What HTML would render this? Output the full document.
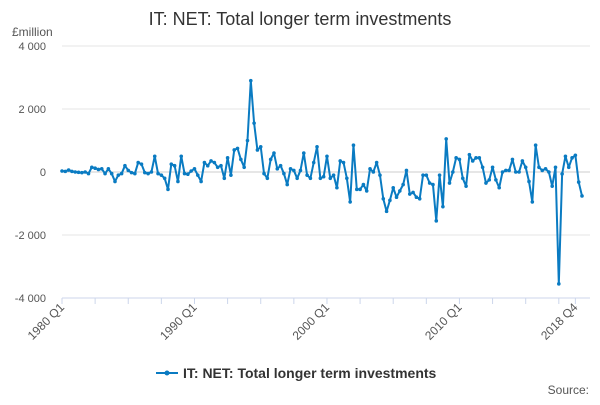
<!DOCTYPE html>
<html><head><meta charset="utf-8"><style>
body{margin:0;background:#fff;font-family:"Liberation Sans",sans-serif}
svg text{font-family:"Liberation Sans",sans-serif}
</style></head><body>
<svg id="c" width="600" height="400">
<text x="300" y="25" text-anchor="middle" font-size="18" fill="#333">IT: NET: Total longer term investments</text>
<text x="12" y="36" font-size="12" fill="#555">£million</text>
<g id="grid"></g><g id="xaxis"></g><g id="series"></g>
<g>
<line x1="156" y1="373" x2="178" y2="373" stroke="#0a7bc2" stroke-width="2"/>
<circle cx="167" cy="373" r="2.5" fill="#0a7bc2"/>
<text x="183" y="378" font-size="14" font-weight="bold" fill="#333">IT: NET: Total longer term investments</text>
</g>
<text x="589" y="394" text-anchor="end" font-size="12" fill="#555">Source:</text>
</svg>
<script>
const yTicks=[4000,2000,0,-2000,-4000];
const yTickLabels=["4 000","2 000","0","-2 000","-4 000"];
const xLabelIdx=[0,40,80,120,155];
const xLabels=["1980 Q1","1990 Q1","2000 Q1","2010 Q1","2018 Q4"];
const values=[30,20,60,20,0,-10,-20,0,-50,150,120,80,100,-50,100,-50,-300,-100,-50,200,50,-20,-50,300,250,-20,-50,0,500,-50,-100,-200,-550,250,200,-300,500,-50,-70,30,100,-100,-300,300,200,350,300,150,200,-200,450,-100,700,750,400,150,1000,2900,1550,700,800,-50,-200,400,600,100,200,-50,-400,100,50,-200,50,600,-100,-200,300,800,-200,-150,500,-200,-100,-500,350,300,-200,-950,850,-550,-550,-400,-600,100,0,300,-100,-850,-1250,-900,-500,-800,-600,-400,50,-700,-650,-800,-850,-100,-100,-350,-400,-1550,-100,-1100,1050,-350,0,450,400,-200,-450,550,350,450,450,150,-350,-250,150,-250,-500,0,50,50,400,0,0,350,150,-300,-950,850,150,50,100,0,-450,150,-3550,-60,500,150,450,530,-320,-760];
const x0=62,x1=582,Y=v=>172-v*31.5/1000,X=i=>x0+i*(x1-x0)/(values.length-1);
const ns="http://www.w3.org/2000/svg";
function mk(t,a,p){const e=document.createElementNS(ns,t);for(const k in a)e.setAttribute(k,a[k]);p.appendChild(e);return e;}
const g=document.getElementById('grid');
yTicks.forEach((t,i)=>{
 const l=mk('line',{x1:x0,x2:590,y1:Y(t),y2:Y(t),stroke:t===0?'#ccc':'#e6e6e6'},g);
 
 
 const tx=mk('text',{x:46,y:Y(t)+4,'text-anchor':'end','font-size':11,fill:'#555'},g);
 tx.textContent=yTickLabels[i];
 
 
});
const xa=document.getElementById('xaxis');
const ax=mk('line',{x1:x0,x2:590,y1:298,y2:298,stroke:'#ccd6eb'},xa);


for(let i=0;i<values.length;i+=10){const t=mk('line',{x1:X(i),x2:X(i),y1:298,y2:304,stroke:'#ccd6eb'},xa);
 
 }
mk('line',{x1:X(155),x2:X(155),y1:298,y2:304,stroke:'#ccd6eb'},xa);
xLabelIdx.forEach((idx,i)=>{
 const x=X(idx);
 const t=mk('text',{x:x+3,y:308,'text-anchor':'end','font-size':12,fill:'#555',transform:`rotate(-45 ${x+3} 308)`},xa);
 t.textContent=xLabels[i];
 
 
});
const s=document.getElementById('series');
const p=mk('polyline',{points:values.map((v,i)=>X(i)+','+Y(v)).join(' '),fill:'none',stroke:'#0a7bc2','stroke-width':2,'stroke-linejoin':'round'},s);


values.forEach((v,i)=>{const c=mk('circle',{cx:X(i),cy:Y(v),r:1.8,fill:'#0a7bc2'},s);
 
 });
</script>
</body></html>
